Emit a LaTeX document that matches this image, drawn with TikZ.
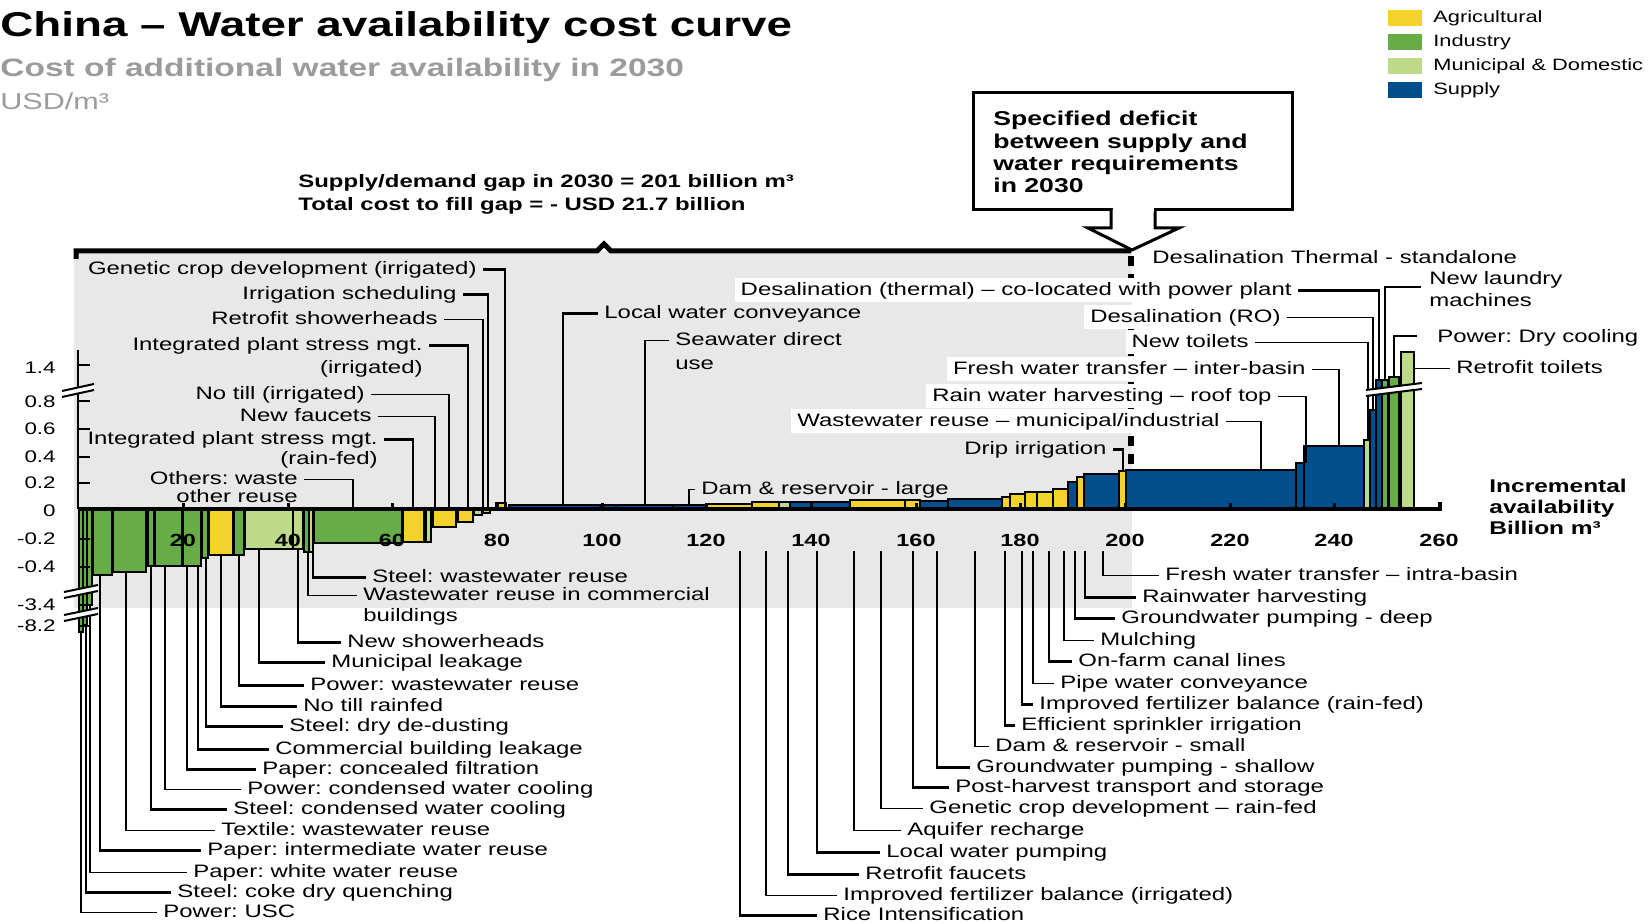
\documentclass[tikz,border=0pt]{standalone}
\usepackage{fontspec}
\setmainfont{Liberation Sans}[FakeStretch=1.33]
\definecolor{yel}{HTML}{F3D22B}
\definecolor{grn}{HTML}{66AD47}
\definecolor{lgr}{HTML}{BCDA88}
\definecolor{blu}{HTML}{004F8C}
\definecolor{bgg}{HTML}{E8E8E8}
\definecolor{subg}{HTML}{9B9B9B}
\newcommand\toplead[8]{%
  \node[lbl,anchor=east,#8] (#1) at (#6+6,#5) {#7};
  \coordinate (#1b) at (#3,#4);
  \draw[#2] (#1.east) -| (#1b);}
\newcommand\westlead[8]{%
  \node[lbl,anchor=west,#8] (#1) at (#6-6,#5) {#7};
  \coordinate (#1b) at (#3,#4);
  \draw[#2] (#1.west) -| (#1b);}
\newcommand\botlead[7]{%
  \node[lbl,anchor=west] (#1) at (#6-6,#5) {#7};
  \coordinate (#1b) at (#3,#4);
  \draw[#2] (#1b) |- (#1.west);}
\newcommand\brkmark[3]{%
  \fill[white] (#1,#3+1) -- (#2,#3-6) -- (#2,#3) -- (#1,#3+7) -- cycle;
  \draw[line width=1pt] (#1,#3+1) -- (#2,#3-6) (#1,#3+7) -- (#2,#3);}
\frenchspacing
\begin{document}
\begin{tikzpicture}[x=0.5pt,y=-0.5pt,line join=miter,
 lbl/.style={font=\fontsize{9}{10}\selectfont, inner xsep=3pt, inner ysep=1.5pt, text height=7pt, text depth=2pt, yshift=-1.2pt},
 thk/.style={line width=1.4pt},
 thn/.style={line width=0.75pt},
 xtl/.style={font=\bfseries\fontsize{8.8}{10}\selectfont, inner sep=0pt},
 ytl/.style={font=\fontsize{8.4}{10}\selectfont, inner sep=0pt, anchor=east},
 legt/.style={font=\fontsize{8.2}{9}\selectfont, inner sep=0pt, anchor=west},
 barst/.style={draw=black, line width=0.8pt}]
\useasboundingbox (0,0) rectangle (1650,924);
% background panel
\fill[bgg] (74,251) rectangle (1132,608);
% titles
\node[anchor=base west, inner sep=0, font=\bfseries\fontsize{17.2}{20}\selectfont] (title) at (0,37) {China – Water availability cost curve};
\node[anchor=base west, inner sep=0, text=subg, font=\bfseries\fontsize{12.6}{14}\selectfont] (sub) at (0,77) {Cost of additional water availability in 2030};
\node[anchor=base west, inner sep=0, text=subg, font=\fontsize{11.5}{13}\selectfont] (unit) at (0,110) {USD/m³};
% legend
\foreach \c/\t/\y [count=\i] in {yel/Agricultural/18, grn/Industry/42, lgr/Municipal \& Domestic/66, blu/Supply/90}{
  \fill[\c] (1388,\y-8) rectangle (1422,\y+8);
  \node[legt] (leg\i) at (1433,\y) {\t};
}
% gap text
\node[anchor=base west, inner sep=0, align=left, font=\bfseries\fontsize{9}{11.5}\selectfont] (gap) at (298,211) {Supply/demand gap in 2030 = 201 billion m³\\Total cost to fill gap = - USD 21.7 billion};
% bracket and dashed gap line
\draw[line width=2.5pt] (76,259) -- (76,251) -- (597,251) -- (604,244) -- (611,251) -- (1131,251);
\draw[line width=2.6pt, dash pattern=on 5pt off 4pt] (1131,256) -- (1131,509);
% callout
\node[draw, line width=1.5pt, fill=white, minimum width=159.5pt, minimum height=58.5pt, inner sep=0] (callbox) at (1132.5,151.5) {};
\draw[line width=1.5pt, fill=white] (1111,210) -- (1111,228) -- (1088,228) -- (1132,250) -- (1179,228) -- (1155,228) -- (1155,210);
\draw[white, line width=1.8pt] (1112.5,210) -- (1153.5,210);
\node[anchor=base west, inner sep=0, align=left, font=\bfseries\fontsize{10}{11.2}\selectfont] (ctext) at (993,193) {Specified deficit\\between supply and\\water requirements\\in 2030};
% negative bars
\foreach \a/\b/\t/\c in {79/83/632/grn, 83/87/625/grn, 87/92/605/grn, 93/112/575/grn, 113/146/572/grn, 148/154/566/grn, 155/182/566/grn, 183/201/566/grn, 202/208/558/grn, 209/233/555/yel, 234/244/555/grn, 245/293/549/lgr, 293/303/549/lgr, 304/309/552/grn, 309/313/552/lgr, 314/402/543/grn, 403/424/542/yel, 426/431/542/lgr, 433/456/527/yel, 458/473/522/yel, 474/482/515/lgr, 483/490/513/yel}
  \filldraw[barst, fill=\c] (\a,509) rectangle (\b,\t);
% positive bars
\foreach \a/\b/\t/\c in {496/506/503/yel, 509/600/505/blu, 600/616/505/blu, 616/673/505/blu, 673/706/505/blu, 706/752/504/yel, 752/779/502/yel, 779/790/502/lgr, 790/812/502/blu, 812/850/502/blu, 850/905/500/yel, 905/920/500/yel, 920/948/501/blu, 948/1002/499/blu, 1002/1010/497/yel, 1010/1025/494/yel, 1025/1037/492/yel, 1037/1053/492/yel, 1053/1068/489/yel, 1068/1077/482/blu, 1077/1084/477/yel, 1084/1119/474/blu, 1119/1126/471/yel, 1126/1296/470/blu, 1296/1304/463/blu, 1304/1364/446/blu, 1364/1370/440/lgr, 1370/1376/410/blu, 1376/1382/380/blu, 1382/1388/380/grn, 1389/1399/377/grn, 1401/1414/352/lgr}
  \filldraw[barst, fill=\c] (\a,509) rectangle (\b,\t);
% axes
\draw[line width=1pt] (78,350) -- (78,509);
\draw[line width=2.4pt] (78,509) -- (1442,509);
\draw[line width=2pt] (1440,509) -- (1440,502);
\foreach \yy in {365,401,429,457,483,539,567,605,626} \draw[line width=1pt] (78,\yy) -- (90,\yy);
\foreach \xx in {183,288,392,497,602,706,811,916,1020,1125,1230,1334} \draw[line width=1.5pt] (\xx,509) -- (\xx,503);
\foreach \v/\xx in {20/183,40/288,60/392,80/497,100/602,120/706,140/811,160/916,180/1020,200/1125,220/1230,240/1334,260/1439}
  \node[xtl] (xt\v) at (\xx,540) {\v};
\foreach \t/\yy [count=\i] in {1.4/368, 0.8/402, 0.6/429, 0.4/457, 0.2/483, 0/511, -0.2/539, -0.4/567, -3.4/605, -8.2/626}
  \node[ytl] (yt\i) at (56,\yy) {\t};
\node[anchor=base west, inner sep=0, align=left, font=\bfseries\fontsize{9.2}{10.5}\selectfont] (incr) at (1489,535) {Incremental\\availability\\Billion m³};
% top-left labels
\toplead{gcd}{thk}{505}{509}{267}{477}{Genetic crop development (irrigated)}{}
\toplead{irs}{thk}{488}{509}{292}{457}{Irrigation scheduling}{}
\toplead{rsh}{thn}{483}{509}{317}{438}{Retrofit showerheads}{}
\toplead{ipi}{thk}{468}{509}{343}{423}{Integrated plant stress mgt.}{}
\node[lbl, anchor=east] (ipi2) at (429,366) {(irrigated)};
\toplead{nti}{thn}{449}{509}{392}{365}{No till (irrigated)}{}
\toplead{nfa}{thn}{435}{509}{414}{372}{New faucets}{}
\toplead{ipr}{thk}{413}{509}{437}{378}{Integrated plant stress mgt.}{}
\node[lbl, anchor=east] (ipr2) at (384,457) {(rain-fed)};
\toplead{oth}{thn}{353}{509}{477}{298}{Others: waste}{}
\node[lbl, anchor=east] (oth2) at (304,495) {other reuse};
% top-middle labels
\westlead{lwc}{thk}{563}{505}{311}{604}{Local water conveyance}{}
\westlead{swd}{thn}{645}{505}{338}{675}{Seawater direct}{}
\node[lbl, anchor=west] (swd2) at (669,362) {use};
\westlead{dam}{thn}{689}{505}{487}{701}{Dam \& reservoir - large}{}
% top-right labels
\node[lbl, anchor=west] (dts) at (1146,256) {Desalination Thermal - standalone};
\toplead{dcl}{thk}{1379}{380}{288}{1292}{Desalination (thermal) – co-located with power plant}{fill=white}
\toplead{dro}{thn}{1373}{410}{315}{1281}{Desalination (RO)}{fill=white}
\toplead{ntl}{thn}{1368}{440}{340}{1249}{New toilets}{fill=white}
\toplead{fwi}{thn}{1339}{446}{367}{1306}{Fresh water transfer – inter-basin}{fill=white}
\toplead{rwr}{thn}{1306}{463}{394}{1272}{Rain water harvesting – roof top}{fill=white}
\toplead{wwr}{thn}{1261}{470}{419}{1220}{Wastewater reuse – municipal/industrial}{fill=white}
\toplead{dri}{thk}{1123}{471}{447}{1107}{Drip irrigation}{}
\node[lbl, anchor=west] (nlm) at (1423,277) {New laundry};
\node[lbl, anchor=west] (nlm2) at (1423,299) {machines};
\coordinate (nlma) at (1421,287);
\coordinate (nlmb) at (1385,380);
\draw[thk] (nlma) -| (nlmb);
\node[lbl, anchor=west] (pdc) at (1431,335) {Power: Dry cooling};
\coordinate (pdca) at (1417,336);
\coordinate (pdcb) at (1394,377);
\draw[thn] (pdca) -| (pdcb);
\node[lbl, anchor=west] (rtt) at (1450,366) {Retrofit toilets};
\coordinate (rttb) at (1414,366);
\draw[thn] (rtt.west) -- (rttb |- rtt.west);
% bottom-left labels
\botlead{swr}{thk}{313}{543}{575}{372}{Steel: wastewater reuse}
\botlead{wrc}{thn}{308}{552}{593}{363}{Wastewater reuse in commercial}
\node[lbl, anchor=west] (wrc2) at (357,614) {buildings};
\botlead{nsh}{thk}{298}{549}{640}{347}{New showerheads}
\botlead{mlk}{thk}{259}{549}{660}{331}{Municipal leakage}
\botlead{pwr}{thk}{239}{555}{683}{310}{Power: wastewater reuse}
\botlead{ntr}{thk}{221}{555}{704}{303}{No till rainfed}
\botlead{sdd}{thk}{206}{558}{724}{289}{Steel: dry de-dusting}
\botlead{cbl}{thk}{198}{566}{747}{275}{Commercial building leakage}
\botlead{pcf}{thk}{187}{566}{767}{262}{Paper: concealed filtration}
\botlead{pcw}{thn}{165}{566}{787}{247}{Power: condensed water cooling}
\botlead{scw}{thk}{151}{566}{807}{233}{Steel: condensed water cooling}
\botlead{txw}{thn}{126}{572}{828}{221}{Textile: wastewater reuse}
\botlead{piw}{thk}{100}{575}{848}{207}{Paper: intermediate water reuse}
\botlead{pww}{thn}{90}{605}{870}{193}{Paper: white water reuse}
\botlead{scq}{thk}{86}{625}{890}{177}{Steel: coke dry quenching}
\botlead{usc}{thn}{81}{632}{910}{163}{Power: USC}
% bottom-middle labels
\botlead{ric}{thk}{740}{551}{913}{823}{Rice Intensification}
\botlead{ifi}{thn}{766}{551}{893}{843}{Improved fertilizer balance (irrigated)}
\botlead{rfa}{thk}{788}{551}{872}{865}{Retrofit faucets}
\botlead{lwp}{thk}{817}{551}{850}{886}{Local water pumping}
\botlead{aqr}{thn}{854}{551}{828}{907}{Aquifer recharge}
\botlead{gcr}{thn}{881}{551}{806}{929}{Genetic crop development – rain-fed}
\botlead{pht}{thk}{913}{551}{785}{955}{Post-harvest transport and storage}
\botlead{gps}{thk}{937}{551}{765}{976}{Groundwater pumping - shallow}
\botlead{drs}{thn}{975}{551}{744}{995}{Dam \& reservoir - small}
\botlead{esi}{thk}{1005}{551}{723}{1021}{Efficient sprinkler irrigation}
\botlead{ifr}{thk}{1022}{551}{702}{1039}{Improved fertilizer balance (rain-fed)}
\botlead{pwc}{thn}{1033}{551}{681}{1060}{Pipe water conveyance}
\botlead{ofc}{thk}{1049}{551}{659}{1078}{On-farm canal lines}
\botlead{mlc}{thn}{1064}{551}{638}{1100}{Mulching}
\botlead{gpd}{thk}{1075}{551}{616}{1121}{Groundwater pumping - deep}
\botlead{rwh}{thk}{1085}{551}{595}{1142}{Rainwater harvesting}
\botlead{fwt}{thn}{1103}{551}{573}{1165}{Fresh water transfer – intra-basin}
% axis breaks
\brkmark{62}{94}{390}
\brkmark{64}{98}{591}
\brkmark{64}{98}{614}
\brkmark{1366}{1422}{389}
\end{tikzpicture}
\end{document}
